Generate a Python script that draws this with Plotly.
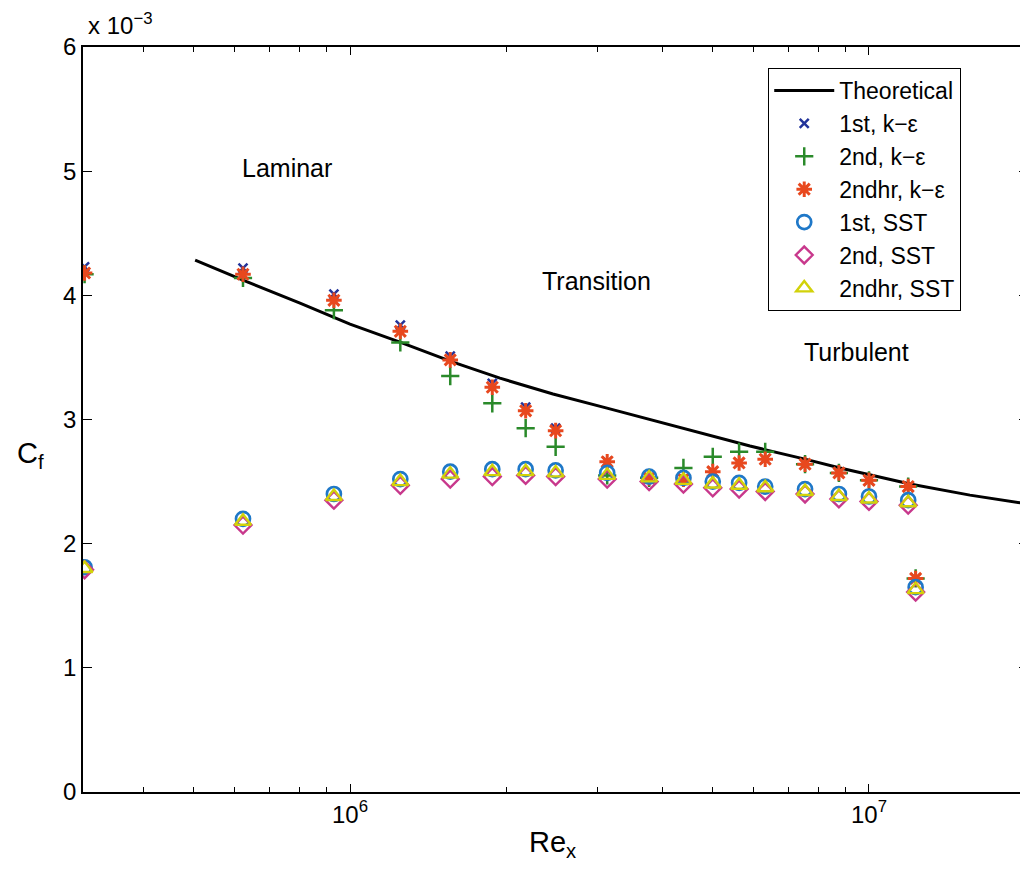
import plotly.graph_objects as go

# ---------------- data (Cf values in units of 1e-3) ----------------
re_x = [3.08e5, 6.22e5, 9.31e5, 1.25e6, 1.56e6, 1.88e6, 2.18e6, 2.49e6, 3.13e6, 3.77e6,
        4.39e6, 5.0e6, 5.62e6, 6.31e6, 7.53e6, 8.75e6, 1.0e7, 1.19e7, 1.23e7]

cf_1st_ke = [4.23, 4.22, 4.01, 3.76, 3.51, 3.29, 3.10, 2.93, 2.66, 2.53,
             2.52, 2.58, 2.65, 2.68, 2.64, 2.57, 2.51, 2.46, 1.72]
cf_2nd_ke = [4.17, 4.14, 3.88, 3.62, 3.35, 3.13, 2.93, 2.78, 2.55, 2.53,
             2.61, 2.70, 2.74, 2.74, 2.64, 2.57, 2.51, 2.46, 1.72]
cf_2ndhr_ke = [4.18, 4.17, 3.96, 3.71, 3.48, 3.26, 3.07, 2.91, 2.66, 2.53,
               2.52, 2.58, 2.65, 2.68, 2.64, 2.57, 2.51, 2.46, 1.72]
cf_1st_sst = [1.81, 2.20, 2.40, 2.52, 2.58, 2.60, 2.60, 2.59, 2.57, 2.54,
              2.53, 2.50, 2.49, 2.46, 2.44, 2.40, 2.38, 2.35, 1.65]
cf_2nd_sst = [1.79, 2.15, 2.35, 2.47, 2.52, 2.54, 2.55, 2.54, 2.52, 2.50,
              2.48, 2.45, 2.44, 2.42, 2.40, 2.36, 2.34, 2.31, 1.61]
cf_2ndhr_sst = [1.80, 2.18, 2.38, 2.50, 2.56, 2.58, 2.58, 2.57, 2.55, 2.53,
                2.51, 2.48, 2.47, 2.45, 2.42, 2.38, 2.36, 2.33, 1.63]

theory_re = [5.03e5, 6.22e5, 8.01e5, 1.0e6, 1.248e6, 1.579e6, 1.945e6, 2.461e6, 3.127e6,
             3.957e6, 4.726e6, 5.898e6, 7.528e6, 8.795e6, 1.2e7, 1.565e7, 2.025e7]
theory_cf = [4.283, 4.122, 3.937, 3.768, 3.623, 3.462, 3.333, 3.205, 3.092,
             2.979, 2.890, 2.786, 2.681, 2.609, 2.480, 2.391, 2.319]

x_tick_vals = [1e6, 1e7]
x_tick_text = ["10<sup>6</sup>", "10<sup>7</sup>"]
x_minor_vals = [4e5, 5e5, 6e5, 7e5, 8e5, 9e5, 2e6, 3e6, 4e6, 5e6, 6e6, 7e6, 8e6, 9e6, 2e7]
y_tick_vals = [0, 1, 2, 3, 4, 5, 6]

FONT = "Liberation Sans, Arial, Helvetica, sans-serif"

fig = go.Figure()
fig.add_trace(go.Scatter(x=theory_re, y=theory_cf, mode="lines", name="Theoretical",
                         line=dict(color="black", width=3)))
fig.add_trace(go.Scatter(x=re_x, y=cf_1st_ke, mode="markers", name="1st, k\u2212\u03b5",
                         marker=dict(symbol="x-thin-open", size=9, color="#22339a",
                                     line=dict(width=2.5))))
fig.add_trace(go.Scatter(x=re_x, y=cf_2nd_ke, mode="markers", name="2nd, k\u2212\u03b5",
                         marker=dict(symbol="cross-thin-open", size=13, color="#2a8a2a",
                                     line=dict(width=2.5))))
fig.add_trace(go.Scatter(x=re_x, y=cf_2ndhr_ke, mode="markers", name="2ndhr, k\u2212\u03b5",
                         marker=dict(symbol="asterisk-open", size=13, color="#e8481e",
                                     line=dict(width=3))))
fig.add_trace(go.Scatter(x=re_x, y=cf_1st_sst, mode="markers", name="1st, SST",
                         marker=dict(symbol="circle-open", size=14, color="#1f78c8",
                                     line=dict(width=2.7))))
fig.add_trace(go.Scatter(x=re_x, y=cf_2nd_sst, mode="markers", name="2nd, SST",
                         marker=dict(symbol="diamond-open", size=13, color="#c8388c",
                                     line=dict(width=2.4))))
fig.add_trace(go.Scatter(x=re_x, y=cf_2ndhr_sst, mode="markers", name="2ndhr, SST",
                         marker=dict(symbol="triangle-up-open", size=14, color="#d2d20a",
                                     line=dict(width=2.4))))

fig.update_layout(
    width=1020, height=865,
    margin=dict(l=75, r=0, t=39, b=81, autoexpand=False),
    paper_bgcolor="white", plot_bgcolor="white",
    font=dict(family=FONT, size=22, color="black"),
    showlegend=True,
    legend=dict(x=0.7249, y=0.972, xanchor="left", yanchor="top",
                bgcolor="white", bordercolor="black", borderwidth=1.2,
                font=dict(family=FONT, size=23), itemwidth=60,
                tracegroupgap=0),
    xaxis=dict(type="log", range=[5.4855, 7.3064], tickmode="array",
               tickvals=x_tick_vals, ticktext=x_tick_text,
               ticks="inside", ticklen=8, tickwidth=1.2, tickcolor="black",
               showline=True, linecolor="black", linewidth=1.5, mirror="allticks",
               showgrid=False, zeroline=False,
               minor=dict(tickvals=x_minor_vals, ticks="inside", ticklen=5,
                          tickwidth=1.2, tickcolor="black", showgrid=False),
               tickfont=dict(size=24)),
    yaxis=dict(range=[0, 6], tickmode="array", tickvals=y_tick_vals,
               ticks="inside", ticklen=9, tickwidth=1.2, tickcolor="black",
               showline=True, linecolor="black", linewidth=1.5, mirror="allticks",
               showgrid=False, zeroline=False, tickfont=dict(size=24)),
)

ann = [
    dict(text="Laminar", x=0.2159, y=0.8376, size=25),
    dict(text="Transition", x=0.5429, y=0.6859, size=25),
    dict(text="Turbulent", x=0.818, y=0.5906, size=25),
]
for a in ann:
    fig.add_annotation(text=a["text"], x=a["x"], y=a["y"], xref="paper", yref="paper",
                       xanchor="center", yanchor="middle", showarrow=False,
                       font=dict(family=FONT, size=a["size"], color="black"))

fig.add_annotation(text="Re<sub>x</sub>", x=0.497, y=-0.070, xref="paper", yref="paper",
                   xanchor="center", yanchor="middle", showarrow=False,
                   font=dict(family=FONT, size=29, color="black"))
fig.add_annotation(text="C<sub>f</sub>", x=-0.056, y=0.452, xref="paper", yref="paper",
                   xanchor="center", yanchor="middle", showarrow=False,
                   font=dict(family=FONT, size=29, color="black"))
fig.add_annotation(text="x 10<sup>\u22123</sup>", x=0.003, y=1.008, xref="paper", yref="paper",
                   xanchor="left", yanchor="bottom", showarrow=False,
                   font=dict(family=FONT, size=24, color="black"))

fig.write_html("out.html")
